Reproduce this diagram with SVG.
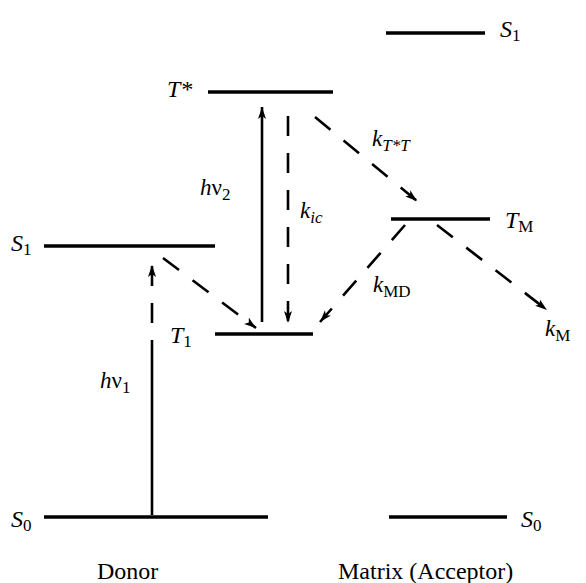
<svg xmlns="http://www.w3.org/2000/svg" width="586" height="583" viewBox="0 0 586 583">
<style>
.lvl{stroke:#000;stroke-width:3.4;fill:none}
.arr{stroke:#000;stroke-width:2.6;fill:none}
.dash{stroke-dasharray:20 17}
text{fill:#000}
.lab{font-size:24px;font-style:italic}
.k{font-size:23px;font-style:italic}
.sub{font-size:17px;font-style:normal}
.subi{font-size:17px;font-style:italic}
.cap{font-size:24px}
</style>
<defs>
<marker id="ah" markerUnits="userSpaceOnUse" markerWidth="14" markerHeight="10" refX="12" refY="4" orient="auto">
<path d="M0,0 L12,4 L0,8 L3,4 Z" fill="#000"/>
</marker>
</defs>
<rect width="586" height="583" fill="#fff"/>
<g font-family="Liberation Serif, Times New Roman, DejaVu Serif, serif">
<g id="donor-S0"><line class="lvl" x1="44" y1="517" x2="268" y2="517"/><text class="lab" x="11" y="527">S<tspan class="sub" dy="4">0</tspan></text></g>
<g id="donor-S1"><line class="lvl" x1="44" y1="246" x2="215" y2="246"/><text class="lab" x="11" y="251">S<tspan class="sub" dy="4">1</tspan></text></g>
<g id="Tstar"><line class="lvl" x1="208" y1="92" x2="333" y2="92"/><text class="lab" x="167" y="97">T*</text></g>
<g id="T1"><line class="lvl" x1="215" y1="334" x2="313" y2="334"/><text class="lab" x="170" y="343">T<tspan class="sub" dy="4">1</tspan></text></g>
<g id="matrix-S1"><line class="lvl" x1="386" y1="33" x2="485" y2="33"/><text class="lab" x="500" y="37">S<tspan class="sub" dy="4">1</tspan></text></g>
<g id="TM"><line class="lvl" x1="391" y1="219" x2="490" y2="219"/><text class="lab" x="505" y="228">T<tspan class="sub" dy="4">M</tspan></text></g>
<g id="matrix-S0"><line class="lvl" x1="389" y1="517" x2="507" y2="517"/><text class="lab" x="521" y="527">S<tspan class="sub" dy="4">0</tspan></text></g>
<g id="connectors">
<line class="arr" x1="152" y1="515" x2="152" y2="360"/>
<line class="arr dash" x1="152" y1="360" x2="152" y2="265" marker-end="url(#ah)"/>
<line class="arr" x1="262" y1="322" x2="262" y2="107" marker-end="url(#ah)"/>
<line class="arr dash" x1="288" y1="116" x2="288" y2="323" marker-end="url(#ah)"/>
<line class="arr dash" x1="315" y1="117" x2="417" y2="201" marker-end="url(#ah)"/>
<line class="arr dash" x1="163" y1="258" x2="256" y2="328" marker-end="url(#ah)"/>
<line class="arr dash" x1="405" y1="225" x2="320" y2="322" marker-end="url(#ah)"/>
<line class="arr dash" x1="437" y1="225" x2="547" y2="310" marker-end="url(#ah)"/>
</g>
<g id="labels">
<text class="k" x="100" y="388">h<tspan font-style="normal">ν</tspan><tspan class="sub" dy="5">1</tspan></text>
<text class="k" x="200" y="195">h<tspan font-style="normal">ν</tspan><tspan class="sub" dy="5">2</tspan></text>
<text class="k" x="300" y="218">k<tspan class="subi" dy="5">ic</tspan></text>
<text class="k" x="372" y="146">k<tspan class="subi" dy="5">T*T</tspan></text>
<text class="k" x="373" y="292">k<tspan class="sub" dy="5">MD</tspan></text>
<text class="k" x="545" y="336">k<tspan class="sub" dy="5">M</tspan></text>
<text class="cap" x="97" y="579">Donor</text>
<text class="cap" x="338" y="579">Matrix (Acceptor)</text>
</g>
</g>
</svg>
